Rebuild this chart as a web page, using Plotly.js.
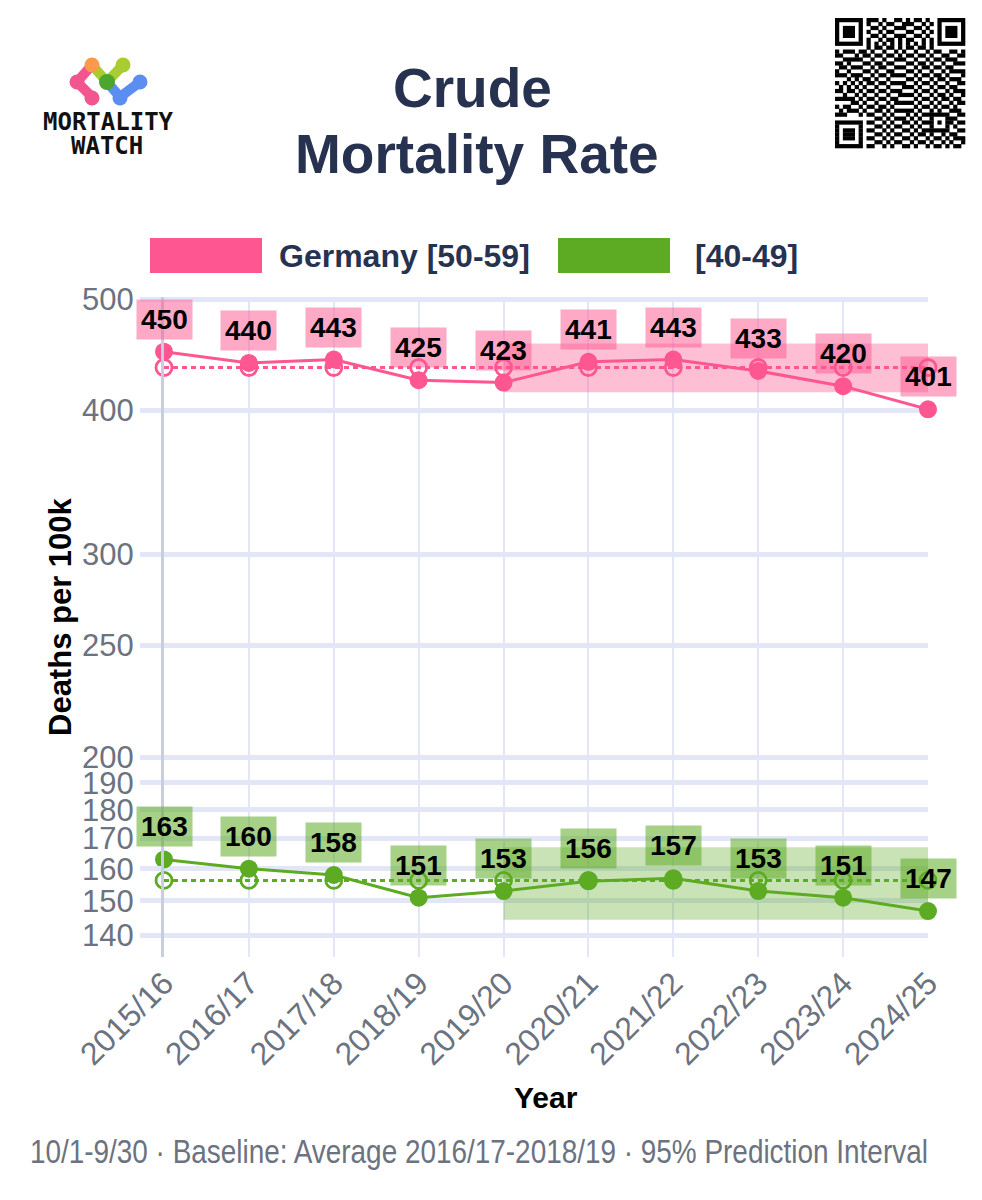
<!DOCTYPE html>
<html>
<head>
<meta charset="utf-8">
<script src="https://cdn.plot.ly/plotly-3.0.1.min.js"></script>
<style>html,body{margin:0;padding:0;background:#fff;}#chart{width:982px;height:1200px;}</style>
</head>
<body>
<div id="chart"></div>
<script>
// ---------------- DATA ----------------
const categories = ['2015/16','2016/17','2017/18','2018/19','2019/20','2020/21','2021/22','2022/23','2023/24','2024/25'];
const seriesNames = ['Germany [50-59]', '[40-49]'];
const crude5059 = [450, 440, 443, 425, 423, 441, 443, 433, 420, 401];
const crude4049 = [163, 160, 158, 151, 153, 156, 157, 153, 151, 147];
const baseline5059 = [436, 436, 436, 436, 436, 436, 436, 436, 436, 436];
const baseline4049 = [156.3, 156.3, 156.3, 156.3, 156.3, 156.3, 156.3, 156.3, 156.3, 156.3];
const piCategories = ['2019/20','2020/21','2021/22','2022/23','2023/24','2024/25'];
const piUpper5059 = [457.5, 457.5, 457.5, 457.5, 457.5, 457.5];
const piLower5059 = [415, 415, 415, 415, 415, 415];
const piUpper4049 = [167, 167, 167, 167, 167, 167];
const piLower4049 = [144.5, 144.5, 144.5, 144.5, 144.5, 144.5];
const yTickVals = [140, 150, 160, 170, 180, 190, 200, 250, 300, 400, 500];
const yTickText = ['140','150','160','170','180','190','200','250','300','400','500'];
const titleLines = ['Crude', 'Mortality Rate'];
const xTitle = 'Year';
const yTitle = 'Deaths per 100k';
const footerText = '10/1-9/30 · Baseline: Average 2016/17-2018/19 · 95% Prediction Interval';
const logoLines = ['MORTALITY', 'WATCH'];
// QR-like decoration modules (hand drawn approximation)
const qrRows = [
"101101001110100110101101001011010",
"010011101001011001110010110100101",
"111010010110100111001101001011100",
"001101101001011000110010110110011",
"110010110110100111001101001001101",
"011101001001011010110010110110010",
"100110110110100101001101001001101",
"010001001011011010110110110110010",
"101110110100100101001001011001101",
"110001011011011010110110100110011",
"001111100100100111001001011011100",
"110100011011011000110110100100111",
"011011100101100111001011011011000",
"100100111010011000110100100101111",
"111011000101101111001011011010001",
"000101111010010000110100101101110",
"101010001101101111001011010010011",
"010101110010010001110100101101100",
"110110101101101110001011010010111",
"001001010010010011110100101101001",
"111110101101101100001011010110110",
"000011010010010111110100101001011",
"101100101101101000001011010110100",
"010111010011010111110100101001110",
"111000101100101000101011111110011",
"000111010011010111010100100011100",
"110000101100101001101011101011011",
"001111010011010110010100100010100",
"110001101100101001101011111110011",
"011110010011010110010110100101100",
"100001101100101001101001011010111",
"011110010011010110010110100101001",
"101001101100101001101001011010110"
];

// ---------------- STYLE ----------------
const PINK = '#fd5690';
const GREEN = '#5cab22';
const NAVY = '#263250';
const GRAY = '#6b7280';
const GRID = '#e2e6f6';
const BASE_FONT = '"Liberation Sans", Arial, Helvetica, sans-serif';

const L = 164, R = 54, T = 297, B = 243, W = 982, H = 1200;
const PW = W - L - R, PH = H - T - B;
const xP = px => (px - L) / PW;
const yP = py => (H - B - py) / PH;

// ---------------- TRACES ----------------
function band(cats, lo, hi, color) {
  return [
    {x: cats, y: lo, type: 'scatter', mode: 'lines', line: {width: 0, color: color}, hoverinfo: 'skip', showlegend: false},
    {x: cats, y: hi, type: 'scatter', mode: 'lines', line: {width: 0, color: color}, fill: 'tonexty', fillcolor: color, hoverinfo: 'skip', showlegend: false}
  ];
}
function baselineTrace(vals, color) {
  return {x: categories, y: vals, type: 'scatter', mode: 'lines+markers', cliponaxis: false,
    line: {color: color, width: 3, dash: '5px,4px'},
    marker: {symbol: 'circle-open', size: 16, color: color, line: {width: 2.8, color: color}},
    showlegend: false};
}
function mainTrace(vals, color, name) {
  return {x: categories, y: vals, name: name, type: 'scatter', mode: 'lines+markers', cliponaxis: false,
    line: {color: color, width: 3},
    marker: {symbol: 'circle', size: 18, color: color},
    showlegend: false};
}

const data = [
  ...band(piCategories, piLower5059, piUpper5059, 'rgba(253,86,144,0.38)'),
  ...band(piCategories, piLower4049, piUpper4049, 'rgba(92,171,34,0.33)'),
  baselineTrace(baseline5059, PINK),
  baselineTrace(baseline4049, GREEN),
  mainTrace(crude5059, PINK, seriesNames[0]),
  mainTrace(crude4049, GREEN, seriesNames[1])
];

// ---------------- ANNOTATIONS ----------------
const annotations = [];
function labels(vals, bg) {
  vals.forEach((v, i) => {
    annotations.push({x: categories[i], y: Math.log10(v), xref: 'x', yref: 'y', text: '<b>' + v + '</b>',
      showarrow: false, yanchor: 'bottom', yshift: 12, bgcolor: bg, borderpad: 4,
      font: {family: BASE_FONT, size: 28, color: '#000'}});
  });
}
labels(crude5059, 'rgba(253,86,144,0.5)');
labels(crude4049, 'rgba(92,171,34,0.55)');

// title
annotations.push({xref: 'paper', yref: 'paper', x: xP(472), y: yP(88), text: '<b>' + titleLines[0] + '</b>', showarrow: false,
  xanchor: 'center', yanchor: 'middle', font: {family: BASE_FONT, size: 55, color: NAVY}});
annotations.push({xref: 'paper', yref: 'paper', x: xP(477), y: yP(154), text: '<b>' + titleLines[1] + '</b>', showarrow: false,
  xanchor: 'center', yanchor: 'middle', font: {family: BASE_FONT, size: 55, color: NAVY}});
// axis titles
annotations.push({xref: 'paper', yref: 'paper', x: xP(546), y: yP(1097), text: '<b>' + xTitle + '</b>', showarrow: false,
  xanchor: 'center', yanchor: 'middle', font: {family: BASE_FONT, size: 30, color: '#000'}});
annotations.push({xref: 'paper', yref: 'paper', x: xP(60), y: yP(617), text: '<b>' + yTitle + '</b>', showarrow: false,
  textangle: -90, xanchor: 'center', yanchor: 'middle', font: {family: BASE_FONT, size: 31, color: '#000'}});
// footer
annotations.push({xref: 'paper', yref: 'paper', x: xP(479), y: yP(1151), text: footerText, showarrow: false,
  xanchor: 'center', yanchor: 'middle', font: {family: BASE_FONT, size: 34, color: GRAY}});
// legend texts
annotations.push({xref: 'paper', yref: 'paper', x: xP(277), y: yP(256), text: '<b>' + seriesNames[0] + '</b>', showarrow: false,
  xanchor: 'left', yanchor: 'middle', font: {family: BASE_FONT, size: 32, color: NAVY}});
annotations.push({xref: 'paper', yref: 'paper', x: xP(693), y: yP(256), text: '<b>' + seriesNames[1] + '</b>', showarrow: false,
  xanchor: 'left', yanchor: 'middle', font: {family: BASE_FONT, size: 32, color: NAVY}});
// logo text
annotations.push({xref: 'paper', yref: 'paper', x: xP(108), y: yP(122), text: '<b>' + logoLines[0] + '</b>', showarrow: false,
  xanchor: 'center', yanchor: 'middle', font: {family: '"DejaVu Sans Mono", monospace', size: 24, color: '#111'}});
annotations.push({xref: 'paper', yref: 'paper', x: xP(107), y: yP(146), text: '<b>' + logoLines[1] + '</b>', showarrow: false,
  xanchor: 'center', yanchor: 'middle', font: {family: '"DejaVu Sans Mono", monospace', size: 24, color: '#111'}});

// ---------------- SHAPES ----------------
const shapes = [];
function rectPx(x0, y0, x1, y1, color) {
  shapes.push({type: 'rect', xref: 'paper', yref: 'paper', x0: xP(x0), x1: xP(x1), y0: yP(y1), y1: yP(y0),
    fillcolor: color, line: {width: 0}, layer: 'above'});
}
function circlePx(cx, cy, r, color) {
  shapes.push({type: 'circle', xref: 'paper', yref: 'paper', x0: xP(cx - r), x1: xP(cx + r), y0: yP(cy + r), y1: yP(cy - r),
    fillcolor: color, line: {width: 0}, layer: 'above'});
}
function linePx(xa, ya, xb, yb, color, w) {
  shapes.push({type: 'line', xref: 'paper', yref: 'paper', x0: xP(xa), x1: xP(xb), y0: yP(ya), y1: yP(yb),
    line: {color: color, width: w}, layer: 'above'});
}
// legend swatches
rectPx(150, 238, 262, 273, PINK);
rectPx(558, 238, 670, 273, GREEN);

// logo
const cPink = '#f2568f', cOrange = '#f99a4c', cLime = '#a9cd30', cGreen = '#4ca62c', cBlue = '#5b8ef0';
linePx(92, 65, 77, 82, cPink, 10);
linePx(77, 82, 92, 97, cPink, 10);
linePx(92, 65, 107, 82, cLime, 10);
linePx(123, 65, 107, 82, cLime, 10);
linePx(107, 82, 120, 97, cBlue, 10);
linePx(120, 97, 140, 82, cBlue, 10);
circlePx(77, 82, 7.5, cPink);
circlePx(92, 98, 7.5, cPink);
circlePx(92, 65, 7.5, cOrange);
circlePx(123, 65, 7.5, cLime);
circlePx(140, 82, 7.5, cBlue);
circlePx(120, 98, 7.5, cBlue);
circlePx(107, 82, 8, cGreen);

// QR decoration
(function () {
  const N = 33;
  const g = qrRows.map(r => r.padEnd(N, '0').slice(0, N).split('').map(Number));
  function finder(r0, c0) {
    for (let r = -1; r <= 7; r++) for (let c = -1; c <= 7; c++) {
      const rr = r0 + r, cc = c0 + c;
      if (rr < 0 || cc < 0 || rr >= N || cc >= N) continue;
      let v = 0;
      if (r >= 0 && r <= 6 && c >= 0 && c <= 6) {
        v = (r === 0 || r === 6 || c === 0 || c === 6 || (r >= 2 && r <= 4 && c >= 2 && c <= 4)) ? 1 : 0;
      }
      g[rr][cc] = v;
    }
  }
  finder(0, 0); finder(0, N - 7); finder(N - 7, 0);
  for (let i = 8; i < N - 8; i++) { g[6][i] = (i % 2 === 0) ? 1 : 0; g[i][6] = (i % 2 === 0) ? 1 : 0; }
  for (let r = -2; r <= 2; r++) for (let c = -2; c <= 2; c++) {
    g[26 + r][26 + c] = (Math.max(Math.abs(r), Math.abs(c)) !== 1) ? 1 : 0;
  }
  const x0 = 835, y0 = 18, m = 130 / N;
  for (let r = 0; r < N; r++) {
    let c = 0;
    while (c < N) {
      if (g[r][c]) {
        let e = c;
        while (e + 1 < N && g[r][e + 1]) e++;
        rectPx(x0 + c * m, y0 + r * m, x0 + (e + 1) * m + 0.3, y0 + (r + 1) * m + 0.3, '#000');
        c = e + 1;
      } else c++;
    }
  }
})();

// ---------------- LAYOUT ----------------
const layout = {
  width: W, height: H,
  margin: {l: L, r: R, t: T, b: B, pad: 0},
  paper_bgcolor: '#fff', plot_bgcolor: '#fff',
  showlegend: false,
  font: {family: BASE_FONT, color: GRAY},
  xaxis: {
    type: 'category', categoryorder: 'array', categoryarray: categories,
    range: [0, categories.length - 1],
    showgrid: true, gridcolor: GRID, gridwidth: 2,
    showline: false, zeroline: false,
    ticks: '', tickangle: -45,
    tickfont: {family: BASE_FONT, size: 32, color: GRAY},
    fixedrange: true
  },
  yaxis: {
    type: 'log', range: [Math.log10(134.1), Math.log10(502)],
    tickvals: yTickVals, ticktext: yTickText,
    showgrid: true, gridcolor: GRID, gridwidth: 5,
    ticks: 'outside', ticklen: 21, tickwidth: 5, tickcolor: GRID,
    showline: true, linecolor: '#c8cddf', linewidth: 3,
    zeroline: false,
    tickfont: {family: BASE_FONT, size: 31, color: GRAY},
    fixedrange: true
  },
  shapes: shapes,
  annotations: annotations
};

Plotly.newPlot('chart', data, layout, {displayModeBar: false, staticPlot: true}).then(function () {
  // condense the footer text horizontally to match the narrow face of the original
  document.querySelectorAll('#chart .annotation-text').forEach(function (t) {
    if (t.textContent === footerText) {
      t.setAttribute('textLength', '898');
      t.setAttribute('lengthAdjust', 'spacingAndGlyphs');
    }
  });
});
</script>
</body>
</html>
